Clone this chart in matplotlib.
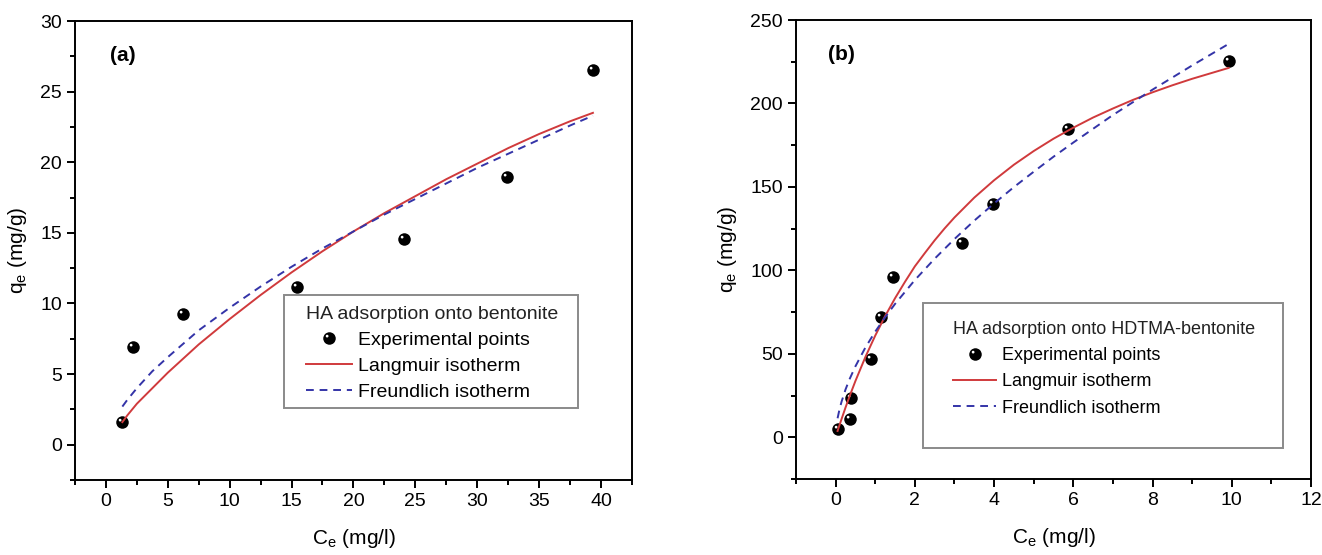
import matplotlib.pyplot as plt
import numpy as np
from matplotlib.path import Path
from matplotlib.patches import Rectangle
from matplotlib.ticker import MultipleLocator
from matplotlib.transforms import Affine2D

plt.rcParams['font.family'] = ['Liberation Sans', 'DejaVu Sans']
plt.rcParams['mathtext.fontset'] = 'custom'
plt.rcParams['mathtext.rm'] = 'Liberation Sans'

# (a) HA onto bentonite
ce_a = [1.33, 2.18, 6.26, 15.48, 24.1, 32.4, 39.35]
qe_a = [1.58, 6.91, 9.23, 11.14, 14.6, 18.98, 26.53]
fit_x_a = [1.33, 1.75, 2.5, 3.75, 5, 7.5, 10, 12.5, 15, 17.5, 20, 22.5, 25,
           27.5, 30, 32.5, 35, 37.5, 39.35]
langmuir_a = [1.6, 2.1, 2.9, 4.0, 5.1, 7.1, 8.9, 10.6, 12.2, 13.7, 15.1,
              16.4, 17.6, 18.8, 19.9, 21.0, 22.0, 22.9, 23.5]
freundlich_a = [2.7, 3.2, 4.0, 5.2, 6.2, 8.1, 9.7, 11.2, 12.6, 13.9, 15.1,
                16.3, 17.4, 18.5, 19.6, 20.6, 21.6, 22.6, 23.3]

# (b) HA onto HDTMA-bentonite
ce_b = [0.05, 0.37, 0.39, 0.89, 1.14, 1.45, 3.2, 3.97, 5.87, 9.92]
qe_b = [4.7, 11.0, 23.8, 47.2, 72.0, 96.0, 116.4, 140.0, 185.0, 225.2]
lang_x_b = [0.05, 0.1, 0.15, 0.25, 0.35, 0.5, 0.75, 1, 1.25, 1.5, 1.75, 2,
            2.25, 2.5, 2.75, 3, 3.5, 4, 4.5, 5, 5.5, 6, 6.5, 7, 7.5, 8, 8.5,
            9, 9.92]
langmuir_b = [3.8, 7.4, 10.9, 17.8, 24.4, 33.7, 48.0, 60.9, 72.6, 83.3, 93.1,
              102.4, 110.3, 118.0, 125.1, 131.7, 143.6, 154.0, 163.3, 171.5,
              178.9, 185.5, 191.6, 197.0, 202.1, 206.7, 210.9, 214.8, 221.3]
freu_x_b = [0.05, 0.1, 0.15, 0.25, 0.35, 0.5, 0.75, 1, 1.25, 1.5, 2, 2.5, 3,
            3.5, 4, 4.5, 5, 5.5, 6, 7, 8, 9, 9.87]
freundlich_b = [11.4, 16.9, 21.3, 28.6, 34.7, 42.5, 53.7, 63.3, 71.9, 79.9,
                94.2, 107.0, 118.8, 129.8, 140.1, 149.9, 159.1, 168.1, 176.6,
                193.1, 208.3, 222.8, 235.0]

RED = "#d03a3c"
BLUE = "#3434a8"

# black ball with a small light spot (hole) at upper left
ball = Path.make_compound_path(
    Path.unit_circle(),
    Path.unit_circle().transformed(
        Affine2D().scale(-0.22, 0.22).translate(-0.38, 0.38)))


def plot_isotherm(ax, ce, qe, lx, lq, fx, fq, title, tag, leg_anchor, box,
                  leg_size, spacing):
    ax.plot(ce, qe, linestyle='none', marker=ball, markersize=9,
            markerfacecolor='black', markeredgewidth=0, color='black',
            zorder=2, label='Experimental points')
    ax.plot(lx, lq, color=RED, linewidth=1.4, zorder=3,
            label='Langmuir isotherm')
    ax.plot(fx, fq, color=BLUE, linewidth=1.4, linestyle=(0, (4, 3)),
            zorder=3, label='Freundlich isotherm')

    for s in ax.spines.values():
        s.set_linewidth(1.4)
    ax.tick_params(which='both', direction='out', width=1.4, labelsize=14,
                   top=False, right=False)
    ax.tick_params(which='major', length=6)
    ax.tick_params(which='minor', length=3.5)

    ax.set_xlabel(r'C$_\mathregular{e}$ (mg/l)', fontsize=15, labelpad=12)
    ax.set_ylabel(r'q$_\mathregular{e}$ (mg/g)', fontsize=15, labelpad=8)
    ax.text(0.063, 0.925, tag, transform=ax.transAxes, fontsize=15,
            fontweight='bold', va='center')

    leg = ax.legend(loc='upper left', bbox_to_anchor=leg_anchor,
                    frameon=False, title=title, alignment='left',
                    fontsize=leg_size, title_fontsize=leg_size,
                    borderpad=0, handlelength=2.4, handletextpad=0.3,
                    labelspacing=spacing)
    leg.get_title().set_color('#222222')
    ax.add_patch(Rectangle((box[0], box[1]), box[2], box[3],
                           transform=ax.transAxes, fill=False,
                           edgecolor='#8a8a8a', linewidth=1.4, zorder=4))


fig = plt.figure(figsize=(13.22, 5.55), dpi=100)
ax1 = fig.add_axes([0.0567, 0.1351, 0.4213, 0.827])
ax2 = fig.add_axes([0.6021, 0.1369, 0.3896, 0.827])

plot_isotherm(ax1, ce_a, qe_a, fit_x_a, langmuir_a, fit_x_a, freundlich_a,
              'HA adsorption onto bentonite', '(a)', (0.397, 0.401),
              (0.375, 0.157, 0.528, 0.246), 14, 0.43)
ax1.set_xlim(-2.5, 42.5)
ax1.set_ylim(-2.5, 30)
ax1.xaxis.set_major_locator(MultipleLocator(5))
ax1.xaxis.set_minor_locator(MultipleLocator(2.5))
ax1.yaxis.set_major_locator(MultipleLocator(5))
ax1.yaxis.set_minor_locator(MultipleLocator(2.5))

plot_isotherm(ax2, ce_b, qe_b, lang_x_b, langmuir_b, freu_x_b, freundlich_b,
              'HA adsorption onto HDTMA-bentonite', '(b)', (0.2875, 0.365),
              (0.247, 0.068, 0.699, 0.315), 13, 0.52)
ax2.set_xlim(-1, 12)
ax2.set_ylim(-25, 250)
ax2.xaxis.set_major_locator(MultipleLocator(2))
ax2.xaxis.set_minor_locator(MultipleLocator(1))
ax2.yaxis.set_major_locator(MultipleLocator(50))
ax2.yaxis.set_minor_locator(MultipleLocator(25))

fig.savefig('out.png', dpi=100)
